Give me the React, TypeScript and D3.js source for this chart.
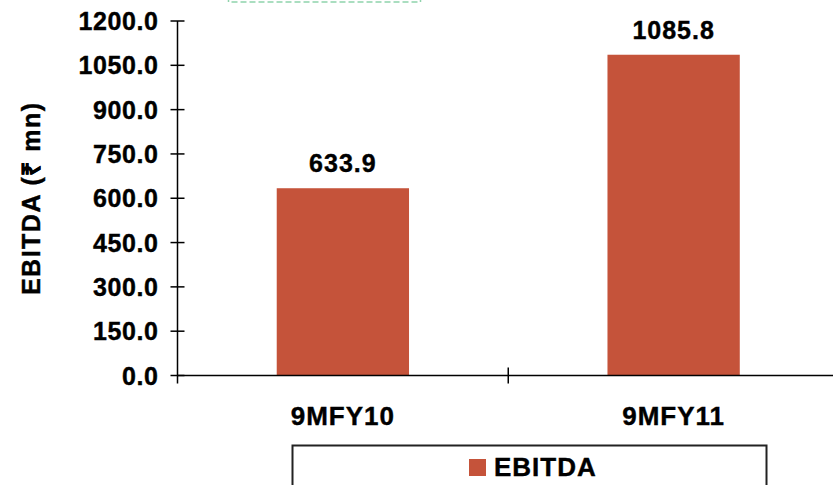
import React, { useEffect, useRef } from 'react';
import * as d3 from 'd3';

const categories = ['9MFY10', '9MFY11'];
const ebitda = [633.9, 1085.8];
const yTicks = [0, 150, 300, 450, 600, 750, 900, 1050, 1200];
const seriesName = 'EBITDA';
const yTitle = 'EBITDA (₹ mn)';

const W = 833;
const H = 485;
const FONT = '"Liberation Sans", Arial, sans-serif';
const BAR = '#C5533A';

export default function App() {
  const svgRef = useRef<SVGSVGElement>(null);

  useEffect(() => {
    if (!svgRef.current) return;
    const svg = d3.select(svgRef.current);
    svg.selectAll('*').remove();

    const left = 177.5, top = 21, bottom = 375.5, right = 839;

    const x = d3.scaleBand().domain(categories).range([left, right]).padding(0);
    const y = d3.scaleLinear().domain([0, 1200]).range([bottom, top]);

    // heavier bold text like the original export
    const boldText = (sel: any, size: number, spacing: number) =>
      sel.attr('font-family', FONT).attr('font-weight', 'bold').attr('font-size', size)
        .attr('letter-spacing', spacing)
        .attr('fill', '#000').attr('stroke', '#000').attr('stroke-width', 0.4);

    // dashed box peeking in at the top (leftover text frame)
    svg.append('rect')
      .attr('x', 228.5).attr('y', -10).attr('width', 192).attr('height', 12)
      .attr('fill', 'none').attr('stroke', '#8fd3ac').attr('stroke-width', 1.5)
      .attr('stroke-dasharray', '6,3');

    // bars
    const barW = x.bandwidth() * 0.4;
    svg.append('g').selectAll('rect')
      .data(ebitda)
      .enter()
      .append('rect')
      .attr('x', (_, i) => x(categories[i])! + (x.bandwidth() - barW) / 2)
      .attr('y', d => y(d))
      .attr('width', barW)
      .attr('height', d => bottom - y(d))
      .attr('fill', BAR);

    // value labels
    boldText(svg.append('g').selectAll('text')
      .data(ebitda)
      .enter()
      .append('text')
      .attr('x', (_, i) => x(categories[i])! + x.bandwidth() / 2)
      .attr('y', d => y(d) - 16)
      .attr('text-anchor', 'middle'), 25, 1)
      .text((d: number) => d.toFixed(1));

    // y axis
    const ya = svg.append('g');
    ya.append('line')
      .attr('x1', left).attr('x2', left).attr('y1', top).attr('y2', bottom + 8)
      .attr('stroke', '#000').attr('stroke-width', 1.5);
    ya.selectAll('line.t').data(yTicks).enter().append('line')
      .attr('class', 't')
      .attr('x1', left - 7).attr('x2', left + 7)
      .attr('y1', d => y(d)).attr('y2', d => y(d))
      .attr('stroke', '#000').attr('stroke-width', 1.5);
    boldText(ya.selectAll('text').data(yTicks).enter().append('text')
      .attr('x', left - 19)
      .attr('y', d => y(d) + 9)
      .attr('text-anchor', 'end'), 25, 0.6)
      .text((d: number) => d.toFixed(1));

    // x axis
    const xa = svg.append('g');
    xa.append('line')
      .attr('x1', left).attr('x2', W).attr('y1', bottom).attr('y2', bottom)
      .attr('stroke', '#000').attr('stroke-width', 1.5);
    xa.selectAll('line.t').data(categories.slice(1)).enter().append('line')
      .attr('class', 't')
      .attr('x1', d => x(d)!).attr('x2', d => x(d)!)
      .attr('y1', bottom - 8).attr('y2', bottom + 8)
      .attr('stroke', '#000').attr('stroke-width', 1.5);
    boldText(xa.selectAll('text').data(categories).enter().append('text')
      .attr('x', d => x(d)! + x.bandwidth() / 2)
      .attr('y', 425)
      .attr('text-anchor', 'middle'), 26, 1)
      .text((d: string) => d);

    // y title
    boldText(svg.append('text')
      .attr('transform', `translate(40, ${(top + bottom) / 2}) rotate(-90)`)
      .attr('text-anchor', 'middle'), 25, 1.5)
      .text(yTitle);

    // legend
    const lg = svg.append('g');
    lg.append('rect')
      .attr('x', 292.5).attr('y', 445.5).attr('width', 474).attr('height', 60)
      .attr('fill', '#fff').attr('stroke', '#222').attr('stroke-width', 2);
    lg.append('rect')
      .attr('x', 469).attr('y', 459).attr('width', 17).attr('height', 17)
      .attr('fill', BAR);
    boldText(lg.append('text')
      .attr('x', 494).attr('y', 476), 26, 1)
      .text(seriesName);
  }, []);

  return (
    <svg
      ref={svgRef}
      width={W}
      height={H}
      style={{ position: 'absolute', left: 0, top: 0, background: '#fff' }}
    />
  );
}
